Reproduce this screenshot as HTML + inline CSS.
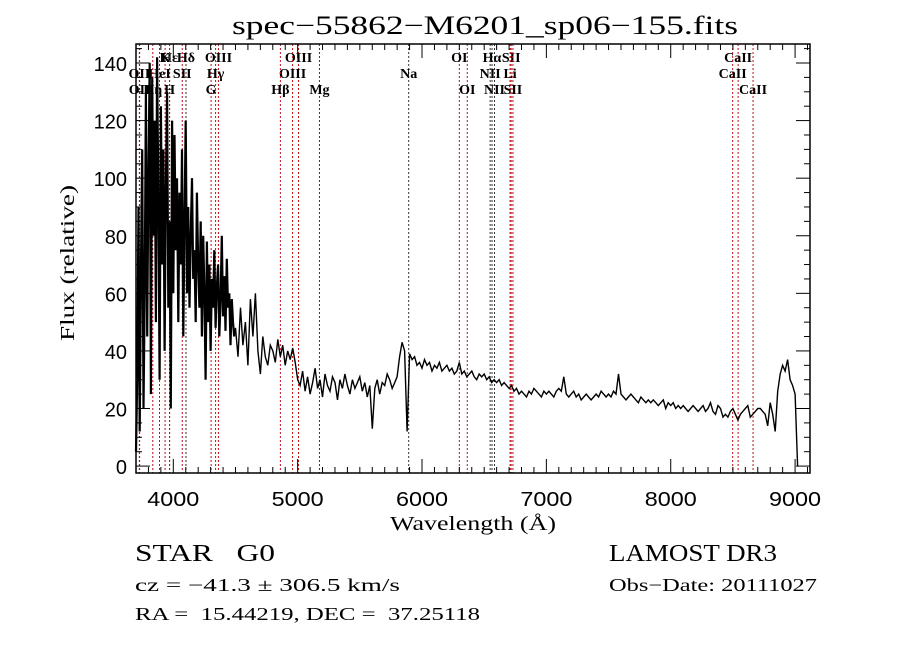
<!DOCTYPE html>
<html><head><meta charset="utf-8"><style>
html,body{margin:0;padding:0;background:#fff;}
svg{display:block;}
text{font-family:"Liberation Serif",serif;fill:#000;}
.tk{font-family:"Liberation Sans",sans-serif;font-size:20px;}
.ln{font-size:14px;font-weight:bold;}
</style></head><body>
<svg id="chart" width="900" height="649" viewBox="0 0 900 649">
<rect width="900" height="649" fill="#fff"/>
<text x="232" y="34" font-size="26" textLength="506" lengthAdjust="spacingAndGlyphs">spec−55862−M6201_sp06−155.fits</text>
<g id="plot"></g>
<text x="390" y="530" font-size="20" textLength="166" lengthAdjust="spacingAndGlyphs">Wavelength (Å)</text>
<text x="0" y="0" font-size="20" textLength="156" lengthAdjust="spacingAndGlyphs" transform="translate(74,341) rotate(-90)">Flux (relative)</text>
<text x="135" y="561" font-size="24" textLength="140" lengthAdjust="spacingAndGlyphs" xml:space="preserve">STAR   G0</text>
<text x="609" y="561" font-size="24" textLength="168" lengthAdjust="spacingAndGlyphs">LAMOST DR3</text>
<text x="135" y="591" font-size="18" textLength="265" lengthAdjust="spacingAndGlyphs">cz = −41.3 ± 306.5 km/s</text>
<text x="609" y="591" font-size="18" textLength="208" lengthAdjust="spacingAndGlyphs">Obs−Date: 20111027</text>
<text x="135" y="620" font-size="18" textLength="345" lengthAdjust="spacingAndGlyphs" xml:space="preserve">RA =  15.44219, DEC =  37.25118</text>
</svg>
<script>
const blueStart = 3700, blueStep = 10;
const blueFlux = [5,30,90,12,70,110,20,60,130,45,100,140,25,135,80,120,50,142,90,30,125,70,110,40,95,130,55,85,20,120,
60,115,75,100,50,95,70,110,45,85,120,60,90,55,80,100,65,75,50,95,70,55,85,45,80,60,30,78,50,70,
40,65,55,75,48,62,70,45,58,80,52,66,47,72,55,60,42,58,50,45];
const redStart = 4500, redStep = 20;
const redFlux = [48,38,55,42,50,35,58,45,60,40,
32,45,38,35,42,40,36,44,38,42,35,40,37,41,36,
30,28,33,26,31,25,29,34,27,30,24,32,28,26,31,29,23,30,27,32,28,25,30,27,29,
31,26,29,24,28,13,27,30,25,29,28,32,30,27,29,31,38,43,40,12,
39,37,38,35,36,34,37,35,36,33,35,34,36,33,34,35,33,34,32,33,
36,32,33,31,32,33,31,30,32,31,32,30,31,29,30,29,30,28,29,28,
27,28,26,27,25,26,25,24,26,25,27,26,25,24,26,25,26,25,24,26,
27,26,31,25,24,25,26,24,25,23,24,25,24,23,24,25,24,26,25,24,
25,24,26,25,32,25,24,23,24,25,24,23,22,24,23,22,23,22,23,22,
21,22,23,20,22,21,22,20,21,20,21,20,19,20,21,20,19,20,21,19,
20,22,19,18,21,20,17,18,17,19,20,18,16,18,19,20,21,17,18,19,
20,20,19,18,14,22,18,12,26,32,35,33,37,30,28,25,0];
const xTicks = [4000,5000,6000,7000,8000,9000];
const yTicks = [0,20,40,60,80,100,120,140];
const lineWaves = [3934,3970,4102,4363,5007,6300,6563,6717,8542, 3727,3889,4072,4340,4959,5893,6548,6708,8498, 3729,3835,3970,4304,4861,5175,6364,6583,6731,8662];
const lineLabels = ["K","Hε","Hδ","OIII","OIII","OI","Hα","SII","CaII", "OII","HeI","SII","Hγ","OIII","Na","NII","Li","CaII", "OII","Hη","H","G","Hβ","Mg","OI","NII","SII","CaII"];
const lineRows = [0,0,0,0,0,0,0,0,0, 1,1,1,1,1,1,1,1,1, 2,2,2,2,2,2,2,2,2,2];
const lineRed = [1,1,0,1,1,1,0,1,1, 1,1,1,1,1,0,0,1,1, 1,1,1,1,1,0,1,0,1,1];

const L=136,R=810,T=44,B=473;
const X0=3700,X1=9120,Y0=-2.4,Y1=146.6;
const xs=w=>L+(w-X0)/(X1-X0)*(R-L);
const ys=v=>B-(v-Y0)/(Y1-Y0)*(B-T);
const NS="http://www.w3.org/2000/svg";
const g=document.getElementById('plot');
function mk(tag,attrs,parent){const e=document.createElementNS(NS,tag);for(const k in attrs)e.setAttribute(k,attrs[k]);(parent||g).appendChild(e);return e;}

lineWaves.forEach((w,i)=>{
  const x=xs(w);
  const l=mk('line',{x1:x,x2:x,y1:T,y2:B,stroke:lineRed[i]?'#c01010':'#333',
    'stroke-width':1,'stroke-dasharray':'2,2'});
  
  
  const t=mk('text',{x:x,y:62+lineRows[i]*16,'text-anchor':'middle',class:'ln'});
  t.textContent=lineLabels[i];
  
  
});

let bp=[],rp=[];
blueFlux.forEach((v,i)=>bp.push(xs(blueStart+i*blueStep).toFixed(1)+','+ys(v).toFixed(1)));
rp.push(bp[bp.length-1]);
redFlux.forEach((v,i)=>rp.push(xs(redStart+i*redStep).toFixed(1)+','+ys(v).toFixed(1)));
const sb=mk('polyline',{points:bp.join(' '),fill:'none',stroke:'#000','stroke-width':2.2});


const sr=mk('polyline',{points:rp.join(' '),fill:'none',stroke:'#000','stroke-width':1.4});



const fr=mk('rect',{x:L,y:T,width:R-L,height:B-T,fill:'none',stroke:'#000','stroke-width':1.5});



for(let w=3800;w<=9100;w+=100){
  const x=xs(w),maj=(w%1000===0),len=maj?14:6;
  mk('line',{x1:x,x2:x,y1:B,y2:B-len,stroke:'#000'});
  mk('line',{x1:x,x2:x,y1:T,y2:T+len,stroke:'#000'});
}
xTicks.forEach(w=>{
  const t=mk('text',{x:xs(w),y:506,'text-anchor':'middle',class:'tk',textLength:52,lengthAdjust:'spacingAndGlyphs'});
  t.textContent=w;
  
  
});
for(let v=0;v<=145;v+=5){
  const y=ys(v),maj=(v%20===0),len=maj?14:6;
  mk('line',{x1:L,x2:L+len,y1:y,y2:y,stroke:'#000'});
  mk('line',{x1:R,x2:R-len,y1:y,y2:y,stroke:'#000'});
}
yTicks.forEach(v=>{
  const t=mk('text',{x:127,y:ys(v)+8,'text-anchor':'end',class:'tk'});
  t.textContent=v;
  
  
});
</script>
</body></html>
